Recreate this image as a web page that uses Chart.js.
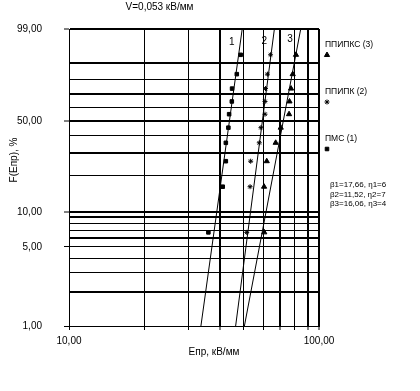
<!DOCTYPE html>
<html lang="ru">
<head>
<meta charset="UTF-8">
<title>Вероятность пробоя</title>
<script src="https://cdn.jsdelivr.net/npm/chart.js"></script>
<style>
  html, body { margin: 0; padding: 0; background: #fff; }
</style>
</head>
<body>
<canvas id="weibull" width="420" height="391"></canvas>
<script>
// вероятность пробоя, % (одинаковые уровни для трёх образцов)
const probF = [6.7, 16.3, 26.0, 35.6, 45.2, 54.8, 64.4, 74.0, 83.7, 93.3];
// пробивная напряжённость, кВ/мм
const epr1 = [36.1, 41.2, 42.4, 42.4, 43.4, 43.7, 44.8, 44.9, 46.9, 48.6];
const epr2 = [51.4, 53.0, 53.3, 57.7, 58.6, 60.8, 60.8, 61.1, 62.2, 64.0];
const epr3 = [60.4, 60.3, 61.8, 67.1, 70.3, 75.9, 76.2, 77.3, 78.5, 80.9];
// прямые Вейбулла: концы на уровнях 1 % и 99 %
const lineF = [1, 99];
const fit1 = [33.7, 49.3];
const fit2 = [46.4, 66.3];
const fit3 = [50.3, 84.5];

const seriesNames = ['ПМС (1)', 'ППИПК (2)', 'ППИПКС (3)'];
const paramText = ['β1=17,66, η1=6', 'β2=11,52, η2=7', 'β3=16,06, η3=4'];

// сетка
const yGrid = [1, 2, 3, 4, 5, 6, 7, 8, 9, 10, 20, 30, 40, 50, 60, 70, 80, 90, 99];
const yTickLabels = [1, 5, 10, 50, 99];
const yThick = [2, 6, 9, 10, 30, 50, 70, 90, 99];
const xGrid = [10, 20, 30, 40, 50, 60, 70, 80, 90, 100];
const xTickLabels = [10, 100];
const xThick = [40, 70, 90, 100];

// номера прямых у верхнего края
const lineNums = [['1', 44.8, 97], ['2', 60.4, 97.2], ['3', 76.6, 97.6]];

// шкала Вейбулла
const weib = f => Math.log(-Math.log(1 - f / 100));
const fmt = v => v.toFixed(2).replace('.', ',');
const pts = xs => xs.map((x, i) => ({ x: x, y: weib(probF[i]) }));
const linePts = xs => xs.map((x, i) => ({ x: x, y: weib(lineF[i]) }));

const FONT = 'Arial, "Liberation Sans", sans-serif';
Chart.defaults.font.family = FONT;
Chart.defaults.color = '#000';

// подписи, легенда и параметры
const extras = {
  id: 'extras',
  afterDraw(chart) {
    const ctx = chart.ctx;
    const xs = chart.scales.x, ys = chart.scales.y;
    const area = chart.chartArea;
    ctx.save();
    ctx.fillStyle = '#000';
    ctx.strokeStyle = '#000';

    // подпись оси Y
    ctx.font = '10px ' + FONT;
    ctx.textAlign = 'center';
    ctx.textBaseline = 'middle';
    ctx.save();
    ctx.translate(14, 160);
    ctx.rotate(-Math.PI / 2);
    ctx.fillText('F(Eпр), %', 0, 0);
    ctx.restore();

    // подпись оси X
    ctx.fillText('Eпр, кВ/мм', 214, 352);

    // номера прямых
    lineNums.forEach(n => {
      ctx.fillText(n[0], xs.getPixelForValue(n[1]), ys.getPixelForValue(weib(n[2])));
    });

    // легенда (обратный порядок)
    const lx = area.right + 7;
    ctx.font = '8.5px ' + FONT;
    ctx.textAlign = 'left';
    [2, 1, 0].forEach((d, k) => {
      const ds = chart.data.datasets[d];
      const ty = 45 + k * 47;
      ctx.fillText(seriesNames[d], lx - 1, ty);
      Chart.helpers.drawPoint(ctx, {
        pointStyle: ds.pointStyle, radius: ds.pointRadius,
        rotation: 0, borderWidth: 1
      }, lx + 1, ty + 10);
    });

    // параметры распределения
    ctx.font = '8px ' + FONT;
    paramText.forEach((t, i) => ctx.fillText(t, area.right + 11, 185 + i * 9.5));
    ctx.restore();
  }
};

const pointSet = (label, xs, style, r) => ({
  label: label, data: pts(xs), showLine: false,
  pointStyle: style, pointRadius: r, pointBorderWidth: 1,
  backgroundColor: '#000', borderColor: '#000'
});
const lineSet = xs => ({
  data: linePts(xs), showLine: true, pointRadius: 0,
  borderColor: '#000', borderWidth: 1
});

new Chart(document.getElementById('weibull'), {
  type: 'scatter',
  data: {
    datasets: [
      pointSet(seriesNames[0], epr1, 'rect', 2.5),
      pointSet(seriesNames[1], epr2, 'star', 2.5),
      pointSet(seriesNames[2], epr3, 'triangle', 3),
      lineSet(fit1), lineSet(fit2), lineSet(fit3)
    ]
  },
  options: {
    responsive: false,
    animation: false,
    devicePixelRatio: 1,
    layout: { padding: { left: 0, right: 101, top: 0, bottom: 0 } },
    plugins: {
      legend: { display: false },
      tooltip: { enabled: false },
      title: {
        display: true,
        text: 'V=0,053 кВ/мм',
        font: { size: 10, weight: 'normal' },
        padding: { top: 1, bottom: 16 }
      }
    },
    scales: {
      x: {
        type: 'logarithmic',
        min: 10, max: 100,
        afterFit: s => { s.height = 65; },
        afterBuildTicks: s => { s.ticks = xGrid.map(v => ({ value: v })); },
        ticks: {
          autoSkip: false, maxRotation: 0, padding: 5,
          font: { size: 10 },
          callback: v => xTickLabels.includes(v) ? fmt(v) : ''
        },
        grid: {
          color: '#000',
          lineWidth: c => xThick.includes(xGrid[c.index]) ? 2 : 1,
          tickLength: 4,
          tickColor: '#000',
          tickWidth: 1
        },
        border: { color: '#000', width: 1 }
      },
      y: {
        type: 'linear',
        min: weib(1), max: weib(99),
        afterFit: s => { s.width = 69; },
        afterBuildTicks: s => { s.ticks = yGrid.map(f => ({ value: weib(f) })); },
        ticks: {
          autoSkip: false, padding: 22,
          font: { size: 10 },
          callback: (v, i) => yTickLabels.includes(yGrid[i]) ? fmt(yGrid[i]) : ''
        },
        grid: {
          color: '#000',
          lineWidth: c => yThick.includes(yGrid[c.index]) ? 2 : 1,
          tickLength: 5,
          tickColor: c => yTickLabels.includes(yGrid[c.index]) ? '#000' : 'rgba(0,0,0,0)',
          tickWidth: 1
        },
        border: { color: '#000', width: 1 }
      }
    }
  },
  plugins: [extras]
});
</script>
</body>
</html>
